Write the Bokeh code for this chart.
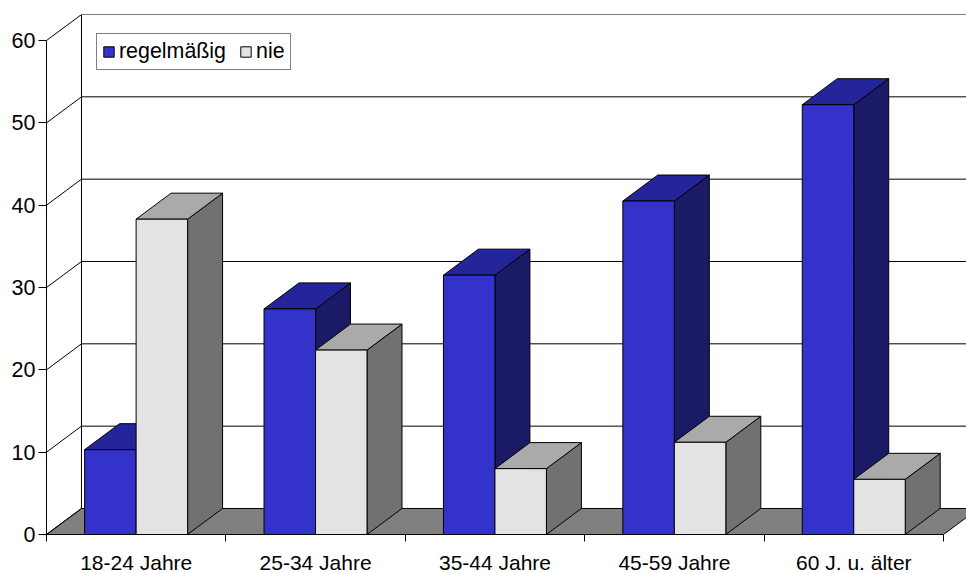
from bokeh.plotting import figure
from bokeh.models import FixedTicker, Legend, LegendItem, Range1d
from bokeh.embed import file_html
from bokeh.resources import INLINE

categories = ["18-24 Jahre", "25-34 Jahre", "35-44 Jahre", "45-59 Jahre", "60 J. u. älter"]
regelmaessig = [10.3, 27.4, 31.5, 40.5, 52.2]
nie = [38.3, 22.4, 8.0, 11.2, 6.7]
y_ticks = [0, 10, 20, 30, 40, 50, 60]

FONT = "Liberation Sans"
FS = "21px"
DX = 0.195    # depth, category units
DY = 3.16     # depth, value units
BAR = 0.287   # bar width, category units
GAP = 0.2125  # offset of the first bar in a category

p = figure(frame_width=920, frame_height=520, output_backend="svg", toolbar_location=None,
           x_range=Range1d(0, 5.128), y_range=Range1d(0, 63.16),
           min_border_left=46, min_border_right=0, min_border_top=14, min_border_bottom=0)
p.outline_line_color = None
p.grid.visible = False

# floor
n = len(categories)
p.patch([0, DX, n + DX, n], [0, DY, DY, 0], fill_color="#808080", line_color="black", line_width=1)

# walls: side-wall diagonals, back-wall lines, back-wall edge
p.multi_line([[0, DX] for _ in y_ticks], [[v, v + DY] for v in y_ticks], line_color="black", line_width=1)
p.multi_line([[DX, n + DX] for v in y_ticks[1:]], [[v + DY, v + DY] for v in y_ticks[1:]], line_color="black", line_width=1)
p.line([DX, DX], [DY, y_ticks[-1] + DY], line_color="black", line_width=1)


def faces(values, offset):
    fx, fy, sx, sy, tx, ty = [], [], [], [], [], []
    for i, v in enumerate(values):
        x0 = i + GAP + offset
        x1 = x0 + BAR
        fx.append([x0, x1, x1, x0])
        fy.append([0, 0, v, v])
        sx.append([x1, x1 + DX, x1 + DX, x1])
        sy.append([0, DY, v + DY, v])
        tx.append([x0, x1, x1 + DX, x0 + DX])
        ty.append([v, v, v + DY, v + DY])
    return fx, fy, sx, sy, tx, ty


def draw(values, offset, front, top, side):
    fx, fy, sx, sy, tx, ty = faces(values, offset)
    p.patches(sx, sy, fill_color=side, line_color="black", line_width=1)
    p.patches(tx, ty, fill_color=top, line_color="black", line_width=1)
    return p.patches(fx, fy, fill_color=front, line_color="black", line_width=1)


r_blue = draw(regelmaessig, 0, "#3333CC", "#24249B", "#1A1A66")
r_grey = draw(nie, BAR, "#E3E3E3", "#AAAAAA", "#717171")

# axes
xa = p.xaxis[0]
xa.ticker = FixedTicker(ticks=[i + 0.5 for i in range(n)], minor_ticks=list(range(n + 1)))
xa.major_label_overrides = {i + 0.5: c for i, c in enumerate(categories)}
xa.bounds = (0, n)
xa.major_tick_in = 0
xa.major_tick_out = 0
xa.minor_tick_in = 0
xa.minor_tick_out = 7
xa.minor_tick_line_color = "black"
xa.major_label_standoff = 9
xa.major_label_text_font = FONT
xa.major_label_text_font_size = FS
xa.major_label_text_color = "black"
xa.axis_line_color = "black"

ya = p.yaxis[0]
ya.ticker = FixedTicker(ticks=y_ticks)
ya.bounds = (0, y_ticks[-1])
ya.major_tick_in = 0
ya.major_tick_out = 8
ya.minor_tick_line_color = None
ya.major_label_standoff = 3
ya.major_label_text_font = FONT
ya.major_label_text_font_size = "21.5px"
ya.major_label_text_color = "black"
ya.axis_line_color = "black"

legend = Legend(items=[LegendItem(label="regelmäßig", renderers=[r_blue]),
                       LegendItem(label="nie", renderers=[r_grey])],
                orientation="horizontal", location=(50, 464),
                glyph_width=13, glyph_height=13, label_standoff=4, spacing=13,
                padding=5, margin=0, label_text_font=FONT, label_text_font_size="21.4px",
                label_text_color="black", border_line_color="black", border_line_width=1,
                background_fill_color="white", background_fill_alpha=1)
p.add_layout(legend, "center")

open("out.html", "w").write(file_html(p, INLINE))
